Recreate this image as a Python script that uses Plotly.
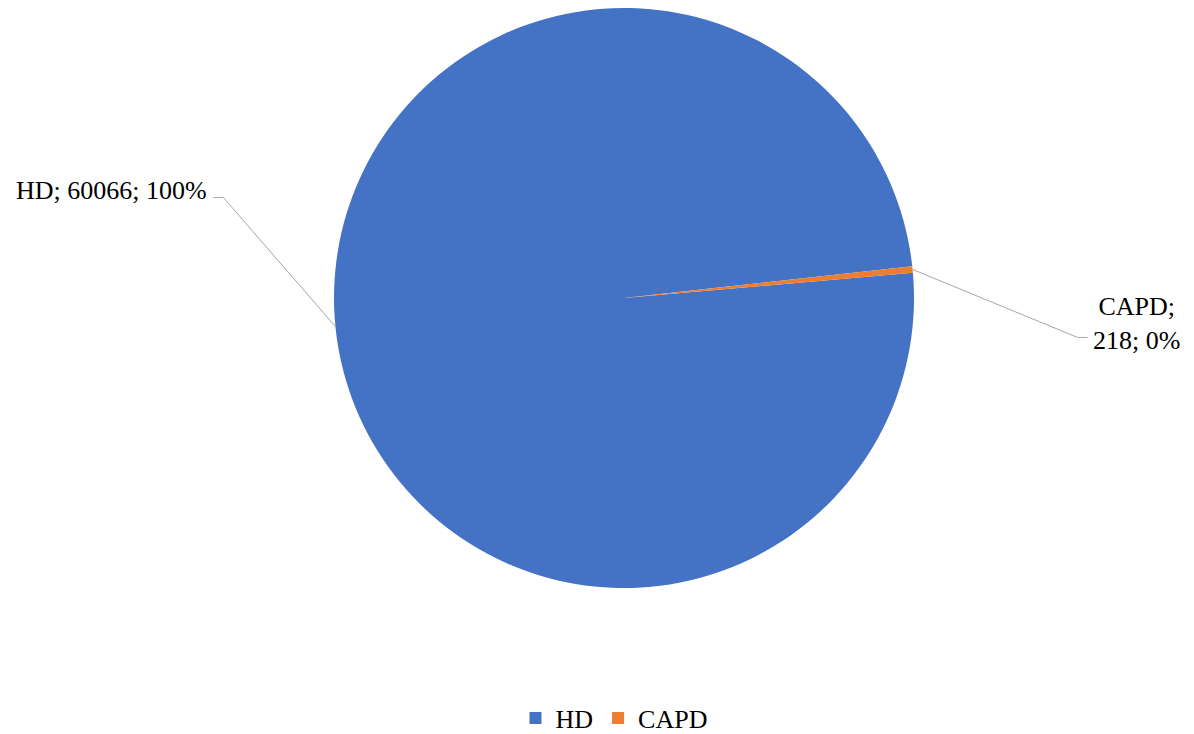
import math
import plotly.graph_objects as go

# ---- data ----
labels = ["HD", "CAPD"]
values = [60066, 218]
pct_labels = ["100%", "0%"]
colors = ["#4472C4", "#ED7D31"]

# ---- layout constants ----
W, H = 1194, 734
TOP, BOT = 8, 146
CX = 624.0
ROT = 85.0
FONT = "Liberation Serif, Times New Roman, serif"
FS = 26
LINE_COLOR = "#A6A6A6"

plot_h = H - TOP - BOT
R = plot_h / 2.0
CY = TOP + R
dom_w = plot_h / W
dom_x = [CX / W - dom_w / 2, CX / W + dom_w / 2]

def px(x, y):
    return x / W, (H - BOT - y) / plot_h

fig = go.Figure(go.Pie(
    labels=labels, values=values, sort=False, direction="clockwise",
    rotation=ROT, textinfo="none", marker=dict(colors=colors, line=dict(width=0)),
    domain=dict(x=dom_x, y=[0, 1]), showlegend=True,
))

# slice mid angles (clockwise from 12 o'clock), computed from data
total = sum(values)
mids = []
start = ROT
for v in values:
    span = v / total * 360.0
    mids.append(start + span / 2)
    start += span

def edge(angle_deg):
    a = math.radians(angle_deg)
    return CX + R * math.sin(a), CY - R * math.cos(a)

shapes = []
annotations = []

# HD label (left)
ax, ay = edge(mids[0])
elbow = (ax - 112, ay - 129)
end = (elbow[0] - 10, elbow[1])
pts = [px(*p) for p in [(ax, ay), elbow, end]]
shapes.append(dict(type="path", xref="paper", yref="paper",
                   path="M {} {} L {} {} L {} {}".format(*pts[0], *pts[1], *pts[2]),
                   line=dict(color=LINE_COLOR, width=1)))
lx, ly = px(end[0] - 4, end[1] - 7)
annotations.append(dict(x=lx, y=ly, xref="paper", yref="paper", xanchor="right", yanchor="middle",
                        text=f"{labels[0]}; {values[0]}; {pct_labels[0]}", showarrow=False,
                        font=dict(family=FONT, size=FS, color="black")))

# CAPD label (right)
ax, ay = edge(mids[1])
elbow = (ax + 165, ay + 68)
end = (elbow[0] + 10, elbow[1])
pts = [px(*p) for p in [(ax, ay), elbow, end]]
shapes.append(dict(type="path", xref="paper", yref="paper",
                   path="M {} {} L {} {} L {} {}".format(*pts[0], *pts[1], *pts[2]),
                   line=dict(color=LINE_COLOR, width=1)))
lx, ly = px(end[0] + 3, end[1] - 14)
annotations.append(dict(x=lx, y=ly, xref="paper", yref="paper", xanchor="left", yanchor="middle",
                        align="center",
                        text=f"{labels[1]};<br>{values[1]}; {pct_labels[1]}", showarrow=False,
                        font=dict(family=FONT, size=FS, color="black")))

fig.update_layout(
    width=W, height=H,
    margin=dict(l=0, r=0, t=TOP, b=BOT, autoexpand=False),
    paper_bgcolor="white", plot_bgcolor="white",
    shapes=shapes, annotations=annotations,
    legend=dict(orientation="h", x=614 / W, xanchor="center",
                yref="container", y=(H - 718) / H, yanchor="middle",
                font=dict(family=FONT, size=FS, color="black"),
                itemwidth=30, tracegroupgap=0),
)

fig.write_html("out.html", config={"displayModeBar": False},
               post_script="document.body.style.margin='0';document.body.style.overflow='hidden';")
